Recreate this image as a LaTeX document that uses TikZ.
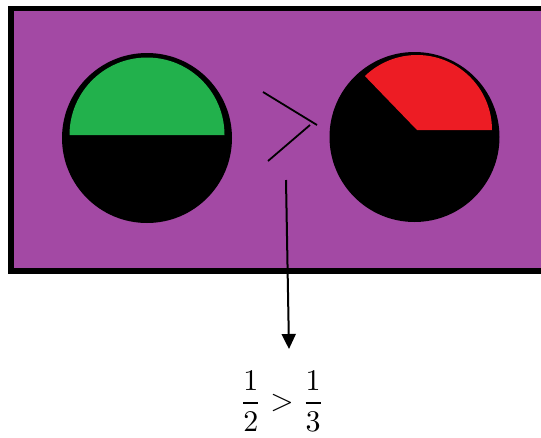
\documentclass[tikz,border=0pt]{standalone}
\usetikzlibrary{arrows.meta}
\definecolor{bgpurple}{HTML}{A349A4}
\definecolor{pgreen}{HTML}{22B14C}
\definecolor{pred}{HTML}{ED1C24}
\tikzset{
  panel/.style={fill=bgpurple, draw=black, line width=5.5pt},
  stroke/.style={draw=black, line width=1.8pt},
  pointer/.style={draw=black, line width=2pt, -{Triangle[width=14pt,length=15pt]}}
}
\begin{document}
\begin{tikzpicture}[x=1pt,y=-1pt]
\useasboundingbox (0,0) rectangle (541,437);
\clip (0,0) rectangle (541,437);
\fill[white] (0,0) rectangle (541,437);
\draw[panel] (11,8.5) rectangle (560,271);
% left disc: one half
\fill[black] (147,138) circle[radius=85];
\fill[pgreen] (69.5,135) arc[start angle=180, end angle=360, radius=77.5] -- cycle;
% right disc: one third
\fill[black] (414.5,137) circle[radius=85];
\fill[pred] (417,130) -- (492,130) arc[start angle=0, end angle=-134, radius=75] -- cycle;
% greater-than sign
\coordinate (g1) at (263,92);
\coordinate (g2) at (317,125);
\coordinate (g3) at (310,125);
\coordinate (g4) at (268,161);
\draw[stroke] (g1) -- (g2);
\draw[stroke] (g3) -- (g4);
% arrow to the fraction statement
\node (frac) at (282,401) {\scalebox{3.0}{$\displaystyle\frac{1}{2}\mathrel{>}\frac{1}{3}$}};
\coordinate (a0) at (286,180);
\coordinate (a1) at (289,349);
\draw[pointer] (a0) -- (a1);
\end{tikzpicture}
\end{document}
